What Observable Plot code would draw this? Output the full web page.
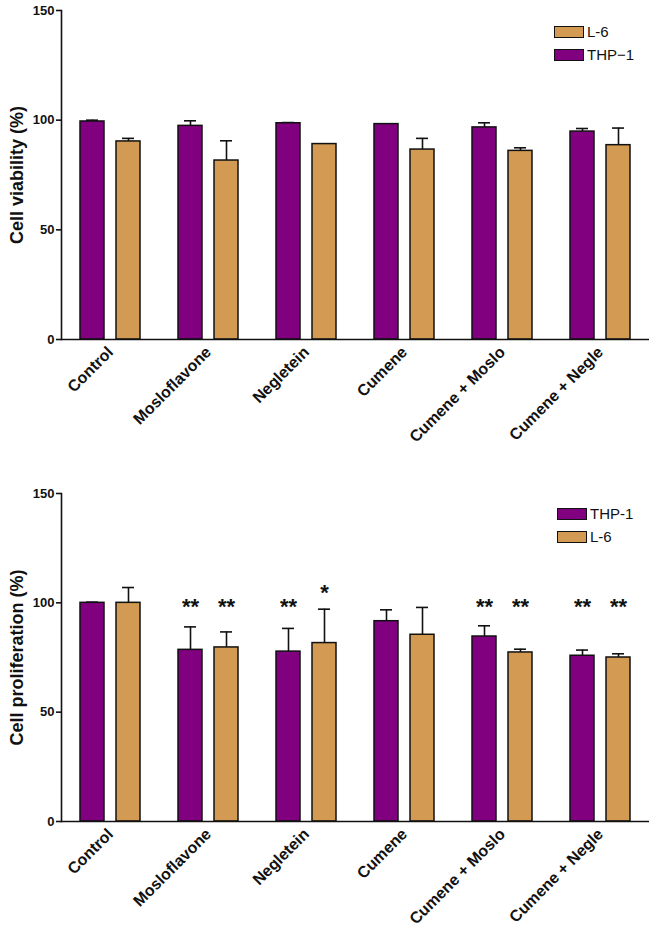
<!DOCTYPE html>
<html>
<head>
<meta charset="utf-8">
<script src="https://cdn.jsdelivr.net/npm/d3@7"></script>
<script src="https://cdn.jsdelivr.net/npm/@observablehq/plot@0.6"></script>
<style>
  body { margin: 0; background: #fff; font-family: Arial, "Liberation Sans", sans-serif; }
  .panel { position: relative; width: 656px; }
  .panel svg { display: block; }
  .legend { position: absolute; font-family: Arial, "Liberation Sans", sans-serif; font-size: 15px; color: #111; }
  .legend .item { display: flex; align-items: center; height: 23px; }
  .legend .swatch { width: 28px; height: 10px; border: 1.5px solid #111; margin-right: 3px; }
</style>
</head>
<body>
<div id="top" class="panel"></div>
<div id="bottom" class="panel"></div>
<script>
// ---- data ----
const categories = ["Control", "Mosloflavone", "Negletein", "Cumene", "Cumene + Moslo", "Cumene + Negle"];
const cellLines = ["THP-1", "L-6"];
const cellColors = ["#800080", "#D29A52"];
const yTicks = [0, 50, 100, 150];

const viabilityTHP1    = [99.4, 97.4, 98.6, 98.2, 96.7, 94.8];
const viabilityTHP1Err = [0.6, 2.3, 0.3, 0, 2.1, 1.4];
const viabilityL6      = [90.3, 81.6, 89.1, 86.6, 86.0, 88.6];
const viabilityL6Err   = [1.4, 9.0, 0, 5.1, 1.4, 7.8];

const prolifTHP1    = [100, 78.5, 77.7, 91.6, 84.6, 75.8];
const prolifTHP1Err = [0.3, 10.5, 10.6, 5.2, 4.9, 2.6];
const prolifL6      = [100, 79.6, 81.6, 85.4, 77.3, 75.0];
const prolifL6Err   = [7.0, 7.1, 15.5, 12.5, 1.5, 1.7];
const prolifTHP1Sig = ["", "**", "**", "", "**", "**"];
const prolifL6Sig   = ["", "**", "*", "", "**", "**"];

const topLegend = [{label: "L-6", line: "L-6"}, {label: "THP\u22121", line: "THP-1"}];
const bottomLegend = [{label: "THP-1", line: "THP-1"}, {label: "L-6", line: "L-6"}];

function makeRows(thp, thpErr, l6, l6Err, thpSig, l6Sig) {
  return categories.flatMap((c, i) => [
    {category: c, line: "THP-1", value: thp[i], err: thpErr[i], sig: thpSig ? thpSig[i] : ""},
    {category: c, line: "L-6", value: l6[i], err: l6Err[i], sig: l6Sig ? l6Sig[i] : ""}
  ]);
}

function chart({rows, label, height, marginTop, marginBottom}) {
  const withErr = rows.filter(d => d.err > 0);
  const withSig = rows.filter(d => d.sig);
  return Plot.plot({
    width: 656,
    height,
    marginLeft: 58,
    marginRight: 5,
    marginTop,
    marginBottom,
    style: {fontFamily: "Arial, 'Liberation Sans', sans-serif", background: "white", color: "#111"},
    fx: {domain: categories, paddingInner: 0, paddingOuter: 0, label: null},
    x: {domain: cellLines, paddingInner: 0.338, paddingOuter: 0.504, axis: null},
    y: {domain: [0, 150], label: null},
    color: {domain: cellLines, range: cellColors},
    marks: [
      Plot.ruleX(withErr, {fx: "category", x: "line", y1: "value", y2: d => d.value + d.err, stroke: "#111", strokeWidth: 1.6}),
      Plot.tickY(withErr, {fx: "category", x: "line", y: d => d.value + d.err, stroke: "#111", strokeWidth: 1.6, insetLeft: 6, insetRight: 6}),
      Plot.barY(rows, {fx: "category", x: "line", y: "value", fill: "line", stroke: "#111", strokeWidth: 1.5}),
      Plot.text(withSig, {fx: "category", x: "line", y: d => Math.max(98, d.value + d.err + 7.5), text: "sig", fontSize: 22, fontWeight: "bold", lineAnchor: "middle", fill: "#111"}),
      Plot.ruleY([0], {stroke: "#111", strokeWidth: 1.6}),
      Plot.frame({anchor: "left", facetAnchor: "left", stroke: "#111", strokeWidth: 1.6}),
      Plot.axisY({ticks: yTicks, tickSize: 5, tickPadding: 2, fontSize: 13, fontWeight: "bold", label: null, strokeWidth: 1.6}),
      Plot.text([label], {text: d => d, frameAnchor: "left", facetAnchor: "left", textAnchor: "middle", rotate: -90, dx: -44, fontSize: 18, fontWeight: "bold", fill: "#111"}),
      Plot.axisFx({anchor: "bottom", tickRotate: -45, tickSize: 0, tickPadding: 10, fontSize: 16, fontWeight: "bold", label: null})
    ]
  });
}

function addLegend(container, items, left, top) {
  const lg = document.createElement("div");
  lg.className = "legend";
  lg.style.left = left + "px";
  lg.style.top = top + "px";
  for (const it of items) {
    const row = document.createElement("div");
    row.className = "item";
    const sw = document.createElement("span");
    sw.className = "swatch";
    sw.style.background = cellColors[cellLines.indexOf(it.line)];
    const tx = document.createElement("span");
    tx.textContent = it.label;
    row.append(sw, tx);
    lg.append(row);
  }
  container.append(lg);
}

const topEl = document.getElementById("top");
topEl.append(chart({
  rows: makeRows(viabilityTHP1, viabilityTHP1Err, viabilityL6, viabilityL6Err),
  label: "Cell viability (%)", height: 470, marginTop: 10, marginBottom: 131
}));
addLegend(topEl, topLegend, 554, 20);

const botEl = document.getElementById("bottom");
botEl.append(chart({
  rows: makeRows(prolifTHP1, prolifTHP1Err, prolifL6, prolifL6Err, prolifTHP1Sig, prolifL6Sig),
  label: "Cell proliferation (%)", height: 464, marginTop: 23, marginBottom: 113
}));
addLegend(botEl, bottomLegend, 557, 32);
</script>
</body>
</html>
